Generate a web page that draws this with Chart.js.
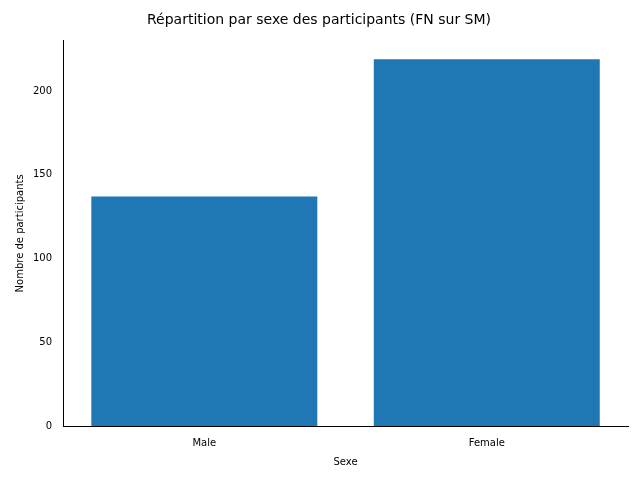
<!DOCTYPE html>
<html><head><meta charset="utf-8">
<script src="https://cdn.jsdelivr.net/npm/chart.js@4"></script>
<style>html,body{margin:0;padding:0;background:#fff}#w{width:640px;height:480px}</style>
</head><body><div id="w"><canvas id="c" width="640" height="480"></canvas></div>
<script>
const categories = ["Male", "Female"];
const participants = [137, 219];
const yTicks = [0, 50, 100, 150, 200];
Chart.defaults.font.family = "DejaVu Sans";
Chart.defaults.color = "#000";
new Chart(document.getElementById('c'), {
  type: 'bar',
  data: { labels: categories, datasets: [{ data: participants, backgroundColor: '#1f77b4', barPercentage: 0.8, categoryPercentage: 1.0 }] },
  options: {
    responsive: false, animation: false,
    layout: { padding: { left: 10, right: 12, top: 0, bottom: 8 } },
    plugins: { legend: { display: false }, tooltip: { enabled: false },
      title: { display: true, text: 'Répartition par sexe des participants (FN sur SM)', font: { size: 14, weight: 'normal' }, padding: { top: 12, bottom: 12 } } },
    scales: {
      x: { grid: { display: false, drawTicks: true }, border: { color: '#000' },
        ticks: { font: { size: 10 } },
        title: { display: true, text: 'Sexe', font: { size: 10 } } },
      y: { min: 0, max: 230, grid: { display: false }, border: { color: '#000' },
        afterBuildTicks: a => { a.ticks = yTicks.map(v => ({ value: v })); },
        ticks: { font: { size: 10 } },
        title: { display: true, text: 'Nombre de participants', font: { size: 10 } } }
    }
  }
});
</script></body></html>
